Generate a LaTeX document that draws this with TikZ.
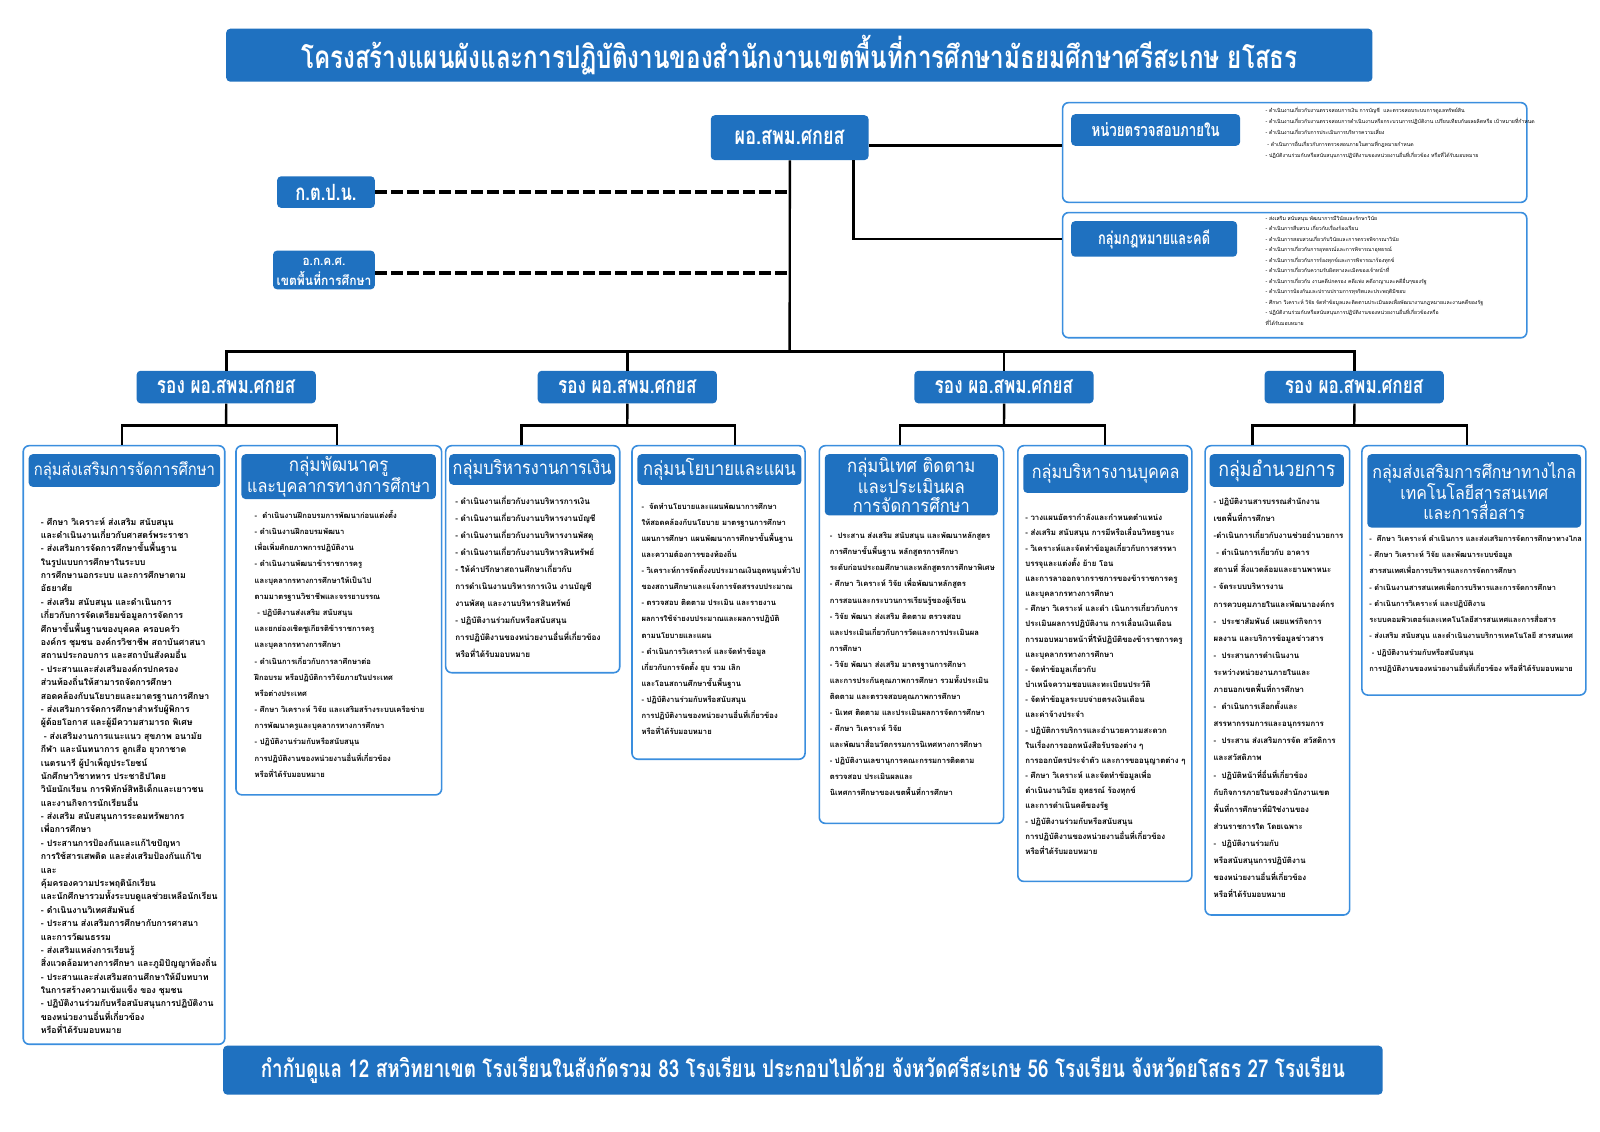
\documentclass[tikz,border=0pt]{standalone}
\usepackage{fontspec}
\setmainfont[Script=Thai]{Loma}
\usepackage{graphicx}
\definecolor{hblue}{RGB}{31,113,192}
\definecolor{bblue}{RGB}{58,142,222}
\newcommand{\fitw}[2]{\resizebox{#1pt}{!}{#2}}
\newcommand{\fitv}[3]{\scalebox{1}[#2]{\resizebox{#1pt}{!}{#3}}}
\begin{document}
\begin{tikzpicture}[x=1pt,y=-1pt,scale=1.018,
  every node/.append style={transform shape},
  hdr/.style={fill=hblue, rounded corners=4pt, text=white, inner sep=0pt, align=center, anchor=north west},
  outer/.style={draw=bblue, line width=1.6pt, rounded corners=6pt, fill=white, inner sep=0pt, anchor=north west},
  conn/.style={line width=2.4pt, black},
  busconn/.style={line width=3.2pt, black},
  dashconn/.style={line width=4pt, dash pattern=on 12pt off 4pt, black},
  body/.style={anchor=north west, align=left, inner sep=0pt, text=black},
]
\useasboundingbox (0,0) rectangle (1571.7,1111.0);
\fill[white] (0,0) rectangle (1571.7,1111.0);

% title
\node[hdr, minimum width=1126, minimum height=52] (title) at (222,28)
  {\fitv{979}{1.3}{\bfseries โครงสร้างแผนผังและการปฏิบัติงานของสำนักงานเขตพื้นที่การศึกษามัธยมศึกษาศรีสะเกษ ยโสธร}};

% top nodes
\node[hdr, minimum width=155, minimum height=44] (ceo) at (698,113) {\fitv{108}{1.35}{\bfseries ผอ.สพม.ศกยส}};
\node[hdr, minimum width=96, minimum height=31] (kt) at (272,173) {\fitv{60}{1.35}{\bfseries ก.ต.ป.น.}};
\node[hdr, minimum width=100, minimum height=38] (okks) at (268,246) {};
\node[text=white, inner sep=0pt] (okks1) at ([yshift=8pt]okks.center) {\fitv{42}{1.1}{\bfseries อ.ก.ค.ศ.}};
\node[text=white, inner sep=0pt] (okks2) at ([yshift=-8pt]okks.center) {\fitv{93}{1.1}{\bfseries เขตพื้นที่การศึกษา}};

% right boxes
\node[outer, minimum width=456, minimum height=98] (iabox) at (1043,100) {};
\node[hdr, minimum width=166, minimum height=31] (iahdr) at (1052,112) {\fitv{126}{1.35}{\bfseries หน่วยตรวจสอบภายใน}};
\node[body, font=\fontsize{5.1}{11}\selectfont] (iatext) at (1243,105) {%
- ดำเนินงานเกี่ยวกับงานตรวจสอบการเงิน การบัญชี \ และตรวจสอบระบบการดูแลทรัพย์สิน\\
- ดำเนินงานเกี่ยวกับงานตรวจสอบการดำเนินงานหรือกระบวนการปฏิบัติงาน เปรียบเทียบกับผลผลิตหรือ เป้าหมายที่กำหนด\\
- ดำเนินงานเกี่ยวกับการประเมินการบริหารความเสี่ยง\\
\ - ดำเนินการอื่นเกี่ยวกับการตรวจสอบภายในตามที่กฎหมายกำหนด\\
- ปฏิบัติงานร่วมกับหรือสนับสนุนการปฏิบัติงานของหน่วยงานอื่นที่เกี่ยวข้อง หรือที่ได้รับมอบหมาย};

\node[outer, minimum width=456, minimum height=123] (lgbox) at (1043,208) {};
\node[hdr, minimum width=163, minimum height=35] (lghdr) at (1052,217) {\fitv{110}{1.35}{\bfseries กลุ่มกฎหมายและคดี}};
\node[body, font=\fontsize{5.1}{10.3}\selectfont] (lgtext) at (1243,212) {%
- ส่งเสริม สนับสนุน พัฒนาการมีวินัยและรักษาวินัย\\
- ดำเนินการสืบสวน เกี่ยวกับเรื่องร้องเรียน\\
- ดำเนินการสอบสวนเกี่ยวกับวินัยและการตรวจพิจารณาวินัย\\
- ดำเนินการเกี่ยวกับการอุทธรณ์และการพิจารณาอุทธรณ์\\
- ดำเนินการเกี่ยวกับการร้องทุกข์และการพิจารณาร้องทุกข์\\
- ดำเนินการเกี่ยวกับความรับผิดทางละเมิดของเจ้าหน้าที่\\
- ดำเนินการเกี่ยวกับ งานคดีปกครอง คดีแพ่ง คดีอาญาและคดีอื่นๆของรัฐ\\
- ดำเนินการป้องกันและปราบปรามการทุจริตและประพฤติมิชอบ\\
- ศึกษา วิเคราะห์ วิจัย จัดทำข้อมูลและติดตามประเมินผลเพื่อพัฒนางานกฎหมายและงานคดีของรัฐ\\
- ปฏิบัติงานร่วมกับหรือสนับสนุนการปฏิบัติงานของหน่วยงานอื่นที่เกี่ยวข้องหรือ\\
ที่ได้รับมอบหมาย};

% deputies
\node[hdr, minimum width=176, minimum height=32] (r1) at (134,364) {\fitv{136}{1.35}{\bfseries รอง ผอ.สพม.ศกยส}};
\node[hdr, minimum width=176, minimum height=32] (r2) at (528,364) {\fitv{136}{1.35}{\bfseries รอง ผอ.สพม.ศกยส}};
\node[hdr, minimum width=176, minimum height=32] (r3) at (898,364) {\fitv{136}{1.35}{\bfseries รอง ผอ.สพม.ศกยส}};
\node[hdr, minimum width=176, minimum height=32] (r4) at (1242,364) {\fitv{136}{1.35}{\bfseries รอง ผอ.สพม.ศกยส}};

% connectors top
\coordinate (bus) at (775.5,345);
\draw[conn] (ceo.south) -- (bus);
\draw[dashconn] (kt.east) -- (kt.east -| ceo.south);
\draw[dashconn] ([yshift=-3pt]okks.east) -- ([yshift=-3pt]okks.east -| ceo.south);
\draw[conn, line width=3pt] ([yshift=-8pt]ceo.east) -- ([yshift=-8pt]ceo.east -| iabox.west);
\draw[conn] ([xshift=62.5pt]ceo.south) |- (lghdr.west -| lgbox.west);
\draw[busconn] (r1.north) |- (bus) -| (r4.north);
\draw[conn] (r2.north) -- (r2.north |- bus);
\draw[conn] (r3.north) -- (r3.north |- bus);

% groups: outer boxes
\node[outer, minimum width=198, minimum height=588] (g1a) at (22,437) {};
\node[outer, minimum width=202, minimum height=343] (g1b) at (231,437) {};
\node[outer, minimum width=171, minimum height=223] (g2a) at (437,437) {};
\node[outer, minimum width=170, minimum height=308] (g2b) at (620,437) {};
\node[outer, minimum width=181, minimum height=371] (g3a) at (804,437) {};
\node[outer, minimum width=171, minimum height=428] (g3b) at (999,437) {};
\node[outer, minimum width=142, minimum height=461] (g4a) at (1183,437) {};
\node[outer, minimum width=220, minimum height=245] (g4b) at (1337,437) {};

% sub connectors
\coordinate (d1a) at (120,437); \coordinate (d1b) at (331,437); \coordinate (h1) at (222,418);
\coordinate (d2a) at (512,437); \coordinate (d2b) at (722,437); \coordinate (h2) at (616,418);
\coordinate (d3a) at (884,437); \coordinate (d3b) at (1085,437); \coordinate (h3) at (986,418);
\coordinate (d4a) at (1230,437); \coordinate (d4b) at (1441,437); \coordinate (h4) at (1330,418);
\foreach \g in {1,2,3,4}{
  \draw[conn] (d\g a) -- ++(0,-19) -| (d\g b);
  \draw[conn] (r\g.south) -- (h\g);
}

% group headers
\node[hdr, minimum width=188, minimum height=32] (h1a) at (28,446) {\fitv{178}{1.15}{กลุ่มส่งเสริมการจัดการศึกษา}};
\node[hdr, minimum width=191, minimum height=44, font=\fontsize{10}{20}\selectfont] (h1b) at (237,446) {\fitv{98}{1.12}{กลุ่มพัฒนาครู}\\\fitv{180}{1.12}{และบุคลากรทางการศึกษา}};
\node[hdr, minimum width=163, minimum height=30] (h2a) at (441,446) {\fitv{156}{1.15}{กลุ่มบริหารงานการเงิน}};
\node[hdr, minimum width=161, minimum height=30] (h2b) at (626,446) {\fitv{150}{1.15}{กลุ่มนโยบายและแผน}};
\node[hdr, minimum width=170, minimum height=60, font=\fontsize{10}{19}\selectfont] (h3a) at (810,446) {\fitv{126}{1.12}{กลุ่มนิเทศ ติดตาม}\\\fitv{105}{1.12}{และประเมินผล}\\\fitv{115}{1.12}{การจัดการศึกษา}};
\node[hdr, minimum width=162, minimum height=38] (h3b) at (1005,446) {\fitv{145}{1.15}{กลุ่มบริหารงานบุคคล}};
\node[hdr, minimum width=132, minimum height=32] (h4a) at (1188,446) {\fitv{115}{1.15}{กลุ่มอำนวยการ}};
\node[hdr, minimum width=210, minimum height=72, font=\fontsize{10}{19.5}\selectfont] (h4b) at (1343,446) {\fitv{200}{1.12}{กลุ่มส่งเสริมการศึกษาทางไกล}\\\fitv{145}{1.12}{เทคโนโลยีสารสนเทศ}\\\fitv{100}{1.12}{และการสื่อสาร}};

% body texts
\node[body, font=\fontsize{8.6}{13.15}\selectfont\bfseries] (t1a) at (40,508) {%
- ศึกษา วิเคราะห์ ส่งเสริม สนับสนุน\\
และดำเนินงานเกี่ยวกับศาสตร์พระราชา\\
- ส่งเสริมการจัดการศึกษาขั้นพื้นฐาน\\
ในรูปแบบการศึกษาในระบบ\\
การศึกษานอกระบบ และการศึกษาตาม\\
อัธยาศัย\\
- ส่งเสริม สนับสนุน และดำเนินการ\\
เกี่ยวกับการจัดเตรียมข้อมูลการจัดการ\\
ศึกษาขั้นพื้นฐานของบุคคล ครอบครัว\\
องค์กร ชุมชน องค์กรวิชาชีพ สถาบันศาสนา\\
สถานประกอบการ และสถาบันสังคมอื่น\\
- ประสานและส่งเสริมองค์กรปกครอง\\
ส่วนท้องถิ่นให้สามารถจัดการศึกษา\\
สอดคล้องกับนโยบายและมาตรฐานการศึกษา\\
- ส่งเสริมการจัดการศึกษาสำหรับผู้พิการ\\
ผู้ด้อยโอกาส และผู้มีความสามารถ พิเศษ\\
\ - ส่งเสริมงานการแนะแนว สุขภาพ อนามัย\\
กีฬา และนันทนาการ ลูกเสือ ยุวกาชาด\\
เนตรนารี ผู้บำเพ็ญประโยชน์\\
นักศึกษาวิชาทหาร ประชาธิปไตย\\
วินัยนักเรียน การพิทักษ์สิทธิเด็กและเยาวชน\\
และงานกิจการนักเรียนอื่น\\
- ส่งเสริม สนับสนุนการระดมทรัพยากร\\
เพื่อการศึกษา\\
- ประสานการป้องกันและแก้ไขปัญหา\\
การใช้สารเสพติด และส่งเสริมป้องกันแก้ไข\\
และ\\
คุ้มครองความประพฤตินักเรียน\\
และนักศึกษารวมทั้งระบบดูแลช่วยเหลือนักเรียน\\
- ดำเนินงานวิเทศสัมพันธ์\\
- ประสาน ส่งเสริมการศึกษากับการศาสนา\\
และการวัฒนธรรม\\
- ส่งเสริมแหล่งการเรียนรู้\\
สิ่งแวดล้อมทางการศึกษา และภูมิปัญญาท้องถิ่น\\
- ประสานและส่งเสริมสถานศึกษาให้มีบทบาท\\
ในการสร้างความเข้มแข็ง ของ ชุมชน\\
- ปฏิบัติงานร่วมกับหรือสนับสนุนการปฏิบัติงาน\\
ของหน่วยงานอื่นที่เกี่ยวข้อง\\
หรือที่ได้รับมอบหมาย};

\node[body, font=\fontsize{7.5}{15.9}\selectfont\bfseries] (t1b) at (250,501) {%
- \ ดำเนินงานฝึกอบรมการพัฒนาก่อนแต่งตั้ง\\
- ดำเนินงานฝึกอบรมพัฒนา\\
เพื่อเพิ่มศักยภาพการปฏิบัติงาน\\
- ดำเนินงานพัฒนาข้าราชการครู\\
และบุคลากรทางการศึกษาให้เป็นไป\\
ตามมาตรฐานวิชาชีพและจรรยาบรรณ\\
\ - ปฏิบัติงานส่งเสริม สนับสนุน\\
และยกย่องเชิดชูเกียรติข้าราชการครู\\
และบุคลากรทางการศึกษา\\
- ดำเนินการเกี่ยวกับการลาศึกษาต่อ\\
ฝึกอบรม หรือปฏิบัติการวิจัยภายในประเทศ\\
หรือต่างประเทศ\\
- ศึกษา วิเคราะห์ วิจัย และเสริมสร้างระบบเครือข่าย\\
การพัฒนาครูและบุคลากรทางการศึกษา\\
- ปฏิบัติงานร่วมกับหรือสนับสนุน\\
การปฏิบัติงานของหน่วยงานอื่นที่เกี่ยวข้อง\\
หรือที่ได้รับมอบหมาย};

\node[body, font=\fontsize{8}{16.7}\selectfont\bfseries] (t2a) at (447,487) {%
- ดำเนินงานเกี่ยวกับงานบริหารการเงิน\\
- ดำเนินงานเกี่ยวกับงานบริหารงานบัญชี\\
- ดำเนินงานเกี่ยวกับงานบริหารงานพัสดุ\\
- ดำเนินงานเกี่ยวกับงานบริหารสินทรัพย์\\
- ให้คำปรึกษาสถานศึกษาเกี่ยวกับ\\
การดำเนินงานบริหารการเงิน งานบัญชี\\
งานพัสดุ และงานบริหารสินทรัพย์\\
- ปฏิบัติงานร่วมกับหรือสนับสนุน\\
การปฏิบัติงานของหน่วยงานอื่นที่เกี่ยวข้อง\\
หรือที่ได้รับมอบหมาย};

\node[body, font=\fontsize{7.5}{15.8}\selectfont\bfseries] (t2b) at (630,494) {%
- \ จัดทำนโยบายและแผนพัฒนาการศึกษา\\
ให้สอดคล้องกับนโยบาย มาตรฐานการศึกษา\\
แผนการศึกษา แผนพัฒนาการศึกษาขั้นพื้นฐาน\\
และความต้องการของท้องถิ่น\\
- วิเคราะห์การจัดตั้งงบประมาณเงินอุดหนุนทั่วไป\\
ของสถานศึกษาและแจ้งการจัดสรรงบประมาณ\\
- ตรวจสอบ ติดตาม ประเมิน และรายงาน\\
ผลการใช้จ่ายงบประมาณและผลการปฏิบัติ\\
ตามนโยบายและแผน\\
- ดำเนินการวิเคราะห์ และจัดทำข้อมูล\\
เกี่ยวกับการจัดตั้ง ยุบ รวม เลิก\\
และโอนสถานศึกษาขั้นพื้นฐาน\\
- ปฏิบัติงานร่วมกับหรือสนับสนุน\\
การปฏิบัติงานของหน่วยงานอื่นที่เกี่ยวข้อง\\
หรือที่ได้รับมอบหมาย};

\node[body, font=\fontsize{7.5}{15.75}\selectfont\bfseries] (t3a) at (815,523) {%
- \ ประสาน ส่งเสริม สนับสนุน และพัฒนาหลักสูตร\\
การศึกษาขั้นพื้นฐาน หลักสูตรการศึกษา\\
ระดับก่อนประถมศึกษาและหลักสูตรการศึกษาพิเศษ\\
- ศึกษา วิเคราะห์ วิจัย เพื่อพัฒนาหลักสูตร\\
การสอนและกระบวนการเรียนรู้ของผู้เรียน\\
- วิจัย พัฒนา ส่งเสริม ติดตาม ตรวจสอบ\\
และประเมินเกี่ยวกับการวัดและการประเมินผล\\
การศึกษา\\
- วิจัย พัฒนา ส่งเสริม มาตรฐานการศึกษา\\
และการประกันคุณภาพการศึกษา รวมทั้งประเมิน\\
ติดตาม และตรวจสอบคุณภาพการศึกษา\\
- นิเทศ ติดตาม และประเมินผลการจัดการศึกษา\\
- ศึกษา วิเคราะห์ วิจัย\\
และพัฒนาสื่อนวัตกรรมการนิเทศทางการศึกษา\\
- ปฏิบัติงานเลขานุการคณะกรรมการติดตาม\\
ตรวจสอบ ประเมินผลและ\\
นิเทศการศึกษาของเขตพื้นที่การศึกษา};

\node[body, font=\fontsize{7.7}{14.9}\selectfont\bfseries] (t3b) at (1007,505) {%
- วางแผนอัตรากำลังและกำหนดตำแหน่ง\\
- ส่งเสริม สนับสนุน การมีหรือเลื่อนวิทยฐานะ\\
- วิเคราะห์และจัดทำข้อมูลเกี่ยวกับการสรรหา\\
บรรจุและแต่งตั้ง ย้าย โอน\\
และการลาออกจากราชการของข้าราชการครู\\
และบุคลากรทางการศึกษา\\
- ศึกษา วิเคราะห์ และดำ เนินการเกี่ยวกับการ\\
ประเมินผลการปฏิบัติงาน การเลื่อนเงินเดือน\\
การมอบหมายหน้าที่ให้ปฏิบัติของข้าราชการครู\\
และบุคลากรทางการศึกษา\\
- จัดทำข้อมูลเกี่ยวกับ\\
บำเหน็จความชอบและทะเบียนประวัติ\\
- จัดทำข้อมูลระบบจ่ายตรงเงินเดือน\\
และค่าจ้างประจำ\\
- ปฏิบัติการบริการและอำนวยความสะดวก\\
ในเรื่องการออกหนังสือรับรองต่าง ๆ\\
การออกบัตรประจำตัว และการขออนุญาตต่าง ๆ\\
- ศึกษา วิเคราะห์ และจัดทำข้อมูลเพื่อ\\
ดำเนินงานวินัย อุทธรณ์ ร้องทุกข์\\
และการดำเนินคดีของรัฐ\\
- ปฏิบัติงานร่วมกับหรือสนับสนุน\\
การปฏิบัติงานของหน่วยงานอื่นที่เกี่ยวข้อง\\
หรือที่ได้รับมอบหมาย};

\node[body, font=\fontsize{7.7}{16.8}\selectfont\bfseries] (t4a) at (1192,489) {%
- ปฏิบัติงานสารบรรณสำนักงาน\\
เขตพื้นที่การศึกษา\\
-ดำเนินการเกี่ยวกับงานช่วยอำนวยการ\\
\ - ดำเนินการเกี่ยวกับ อาคาร\\
สถานที่ สิ่งแวดล้อมและยานพาหนะ\\
- จัดระบบบริหารงาน\\
การควบคุมภายในและพัฒนาองค์กร\\
- \ ประชาสัมพันธ์ เผยแพร่กิจการ\\
ผลงาน และบริการข้อมูลข่าวสาร\\
- \ ประสานการดำเนินงาน\\
ระหว่างหน่วยงานภายในและ\\
ภายนอกเขตพื้นที่การศึกษา\\
- \ ดำเนินการเลือกตั้งและ\\
สรรหากรรมการและอนุกรรมการ\\
- \ ประสาน ส่งเสริมการจัด สวัสดิการ\\
และสวัสดิภาพ\\
- \ ปฏิบัติหน้าที่อื่นที่เกี่ยวข้อง\\
กับกิจการภายในของสำนักงานเขต\\
พื้นที่การศึกษาที่มิใช่งานของ\\
ส่วนราชการใด โดยเฉพาะ\\
- \ ปฏิบัติงานร่วมกับ\\
หรือสนับสนุนการปฏิบัติงาน\\
ของหน่วยงานอื่นที่เกี่ยวข้อง\\
หรือที่ได้รับมอบหมาย};

\node[body, font=\fontsize{7.3}{16}\selectfont\bfseries] (t4b) at (1345,525) {%
- \ ศึกษา วิเคราะห์ ดำเนินการ และส่งเสริมการจัดการศึกษาทางไกล\\
- ศึกษา วิเคราะห์ วิจัย และพัฒนาระบบข้อมูล\\
สารสนเทศเพื่อการบริหารและการจัดการศึกษา\\
- ดำเนินงานสารสนเทศเพื่อการบริหารและการจัดการศึกษา\\
- ดำเนินการวิเคราะห์ และปฏิบัติงาน\\
ระบบคอมพิวเตอร์และเทคโนโลยีสารสนเทศและการสื่อสาร\\
- ส่งเสริม สนับสนุน และดำเนินงานบริการเทคโนโลยี สารสนเทศ\\
\ - ปฏิบัติงานร่วมกับหรือสนับสนุน\\
การปฏิบัติงานของหน่วยงานอื่นที่เกี่ยวข้อง หรือที่ได้รับมอบหมาย};

% bottom banner
\node[hdr, minimum width=1139, minimum height=48] (banner) at (219,1027)
  {\fitv{1065}{1.3}{\bfseries กำกับดูแล 12 สหวิทยาเขต โรงเรียนในสังกัดรวม 83 โรงเรียน ประกอบไปด้วย จังหวัดศรีสะเกษ 56 โรงเรียน จังหวัดยโสธร 27 โรงเรียน}};
\end{tikzpicture}
\end{document}
